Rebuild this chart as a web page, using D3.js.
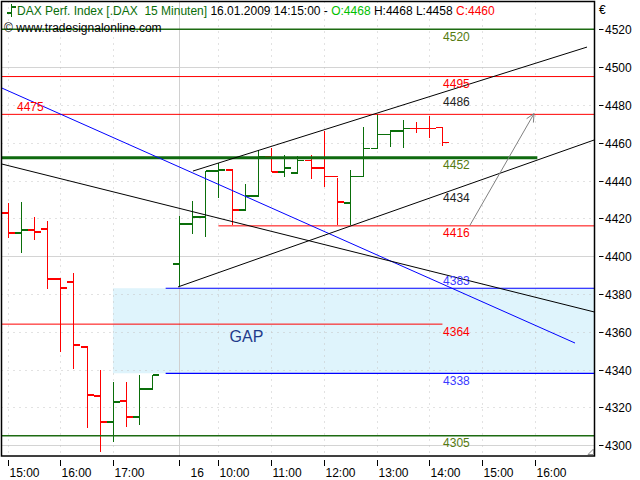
<!DOCTYPE html>
<html><head><meta charset="utf-8">
<script src="https://cdn.jsdelivr.net/npm/d3@7"></script>
<style>
body{margin:0;background:#fff}
svg{display:block;font-family:"Liberation Sans",Arial,sans-serif}
</style>
</head><body><svg id="c" width="640" height="480"></svg>
<script>
// ---------- DATA ----------
const barIdx = [0,1,2,3,4,5,6,7,8,9,10,11, 13,14,15,16,17,18,19,20,21,22,23,24,25,26,27,28,29,30,31,32,33];
const opens  = [4422.8,4412.2,4413.8,4414.3,4387.9,4386.3,4351.9,4326.0,4312.2,4323.3,4314.9,4329.7,
                4395.8,4417.0,4420.7,4445.0,4445.5,4424.4,4431.8,4452.6,4444.5,4444.1,4450.5,4446.6,4442.0,4428.1,4442.1,4457.0,4464.4,4466.2,4467.6,4467.6,4468];
const highs  = [4428.1,4428.6,4420.7,4418.6,4387.9,4391.1,4351.9,4339.7,4333.4,4333.4,4337.1,4337.1,
                4421.2,4429.1,4445.0,4449.3,4445.5,4438.1,4456.1,4457.2,4453.5,4453.0,4453.5,4466.3,4441.3,4445.5,4468.3,4475.2,4466.7,4472.0,4471.0,4474.3,4468];
const lows   = [4409.6,4401.6,4408.5,4382.6,4349.3,4340.3,4309.0,4296.3,4301.6,4309.6,4310.6,4329.7,
                4384.2,4411.7,4410.1,4430.7,4416.5,4424.4,4431.8,4444.5,4441.9,4443.4,4440.8,4436.6,4416.5,4416.5,4442.4,4457.2,4457.7,4457.2,4465.1,4462.6,4458];
const closes = [4412.2,4413.8,4412.7,4387.9,4383.1,4353.0,4326.5,4312.2,4322.8,4314.9,4329.7,4337.1,
                4417.0,4420.7,4445.0,4445.5,4424.4,4431.8,4452.6,4444.5,4446.6,4450.5,4446.6,4442.0,4428.6,4442.1,4457.0,4464.4,4466.2,4467.6,4467.4,4467.4,4460];

const xTickIdx    = [0,4,8,13,16,20,24,28,32,36,40];
const xTickLabels = ["15:00","16:00","17:00","16","10:00","11:00","12:00","13:00","14:00","15:00","16:00"];
const xGridHourIdx = [0,4,8,16,20,24,28,32,36,40];
const xDaySepIdx   = [13];
const yTicks = d3.range(4300, 4521, 20);
const ySolidGrid = [4300,4400,4500];

// horizontal levels: value, start index (null = plot edge), end index, colour, width, label, label colour
const levelValues = [4520, 4495, 4475, 4452, 4416, 4383, 4364, 4338, 4305];
const levelFrom   = [null, null, null, null, 16,   12,   null, 12,   null];
const levelTo     = [null, null, null, 40.2, null, null, 33,   null, null];
const levelColors = ["#1d6b12","#ff0000","#ff0000","#0f6a0f","#ff0000","#0000ff","#ff0000","#0000ff","#1d6b12"];
const levelWidths = [1.5,1,1,3,1,1.2,1,1.2,1.5];
const levelLabelColors = ["#557a10","#ff0000","#ff0000","#557a10","#ff0000","#3a3aff","#ff0000","#3a3aff","#557a10"];
const levelLabelAbove  = [false,false,true,false,false,true,false,false,false];
const levelLabelAtLeft = [false,false,true,false,false,false,false,false,false];

// extra value labels (channel readings)
const noteValues = [4486, 4434];

// trend lines as [index, value] pairs
const blueLine  = [[-0.42,4488.9],[43.06,4354.0]];
const blackDown = [[-0.42,4448.7],[44.54,4370.4]];
const chanUpper = [[14.07,4445.0],[43.97,4510.6]];
const chanLower = [[12.94,4383.7],[44.50,4461.4]];
const arrowLine = [[35.06,4416.0],[39.95,4475.4]];

// gap zone
const gapFromIdx = 8.0, gapTop = 4383, gapBottom = 4338;

// ---------- SCALES ----------
const W = 640, H = 480;
const plot = {l:1.5, t:1.5, r:594.5, b:456};
const x = d3.scaleLinear().domain([0,40]).range([7.5,534.7]);
const y = d3.scaleLinear().domain([4300,4520]).range([445.1,29.3]);
const xL = x.invert(plot.l), xR = x.invert(plot.r);

const svg = d3.select("#c");
svg.append("rect").attr("width",W).attr("height",H).attr("fill","#fff");
svg.append("defs").append("clipPath").attr("id","pc")
  .append("rect").attr("x",plot.l).attr("y",plot.t).attr("width",plot.r-plot.l).attr("height",plot.b-plot.t);
const g = svg.append("g").attr("clip-path","url(#pc)");

// gap zone
g.append("rect")
  .attr("x", x(gapFromIdx)).attr("y", y(gapTop))
  .attr("width", x(xR)-x(gapFromIdx)).attr("height", y(gapBottom)-y(gapTop))
  .attr("fill","#dff4fc");

// grid
g.selectAll(".hg").data(yTicks.filter(v=>!ySolidGrid.includes(v))).join("line")
  .attr("x1",plot.l).attr("x2",plot.r).attr("y1",d=>Math.round(y(d))+0.5).attr("y2",d=>Math.round(y(d))+0.5)
  .attr("stroke","#c4c4c4").attr("stroke-dasharray","1,5");
g.selectAll(".hs").data(ySolidGrid).join("line")
  .attr("x1",plot.l).attr("x2",plot.r).attr("y1",d=>Math.round(y(d))+0.5).attr("y2",d=>Math.round(y(d))+0.5)
  .attr("stroke","#d4d4d4");
g.selectAll(".vg").data(xGridHourIdx).join("line")
  .attr("y1",plot.t).attr("y2",plot.b).attr("x1",d=>Math.round(x(d))+0.5).attr("x2",d=>Math.round(x(d))+0.5)
  .attr("stroke","#c4c4c4").attr("stroke-dasharray","1,5");
g.selectAll(".vs").data(xDaySepIdx).join("line")
  .attr("y1",plot.t).attr("y2",plot.b).attr("x1",d=>Math.round(x(d))+0.5).attr("x2",d=>Math.round(x(d))+0.5)
  .attr("stroke","#d0d0d0");

// bars (OHLC)
const bars = barIdx.map((i,k)=>({i, o:opens[k], h:highs[k], l:lows[k], c:closes[k]}));
const bg = g.append("g").attr("shape-rendering","crispEdges");
bars.forEach(d=>{
  const col = d.c >= d.o ? "#0a6e0a" : "#ff0000";
  const cx = Math.round(x(d.i))+0.5;
  bg.append("line").attr("x1",cx).attr("x2",cx).attr("y1",y(d.h)).attr("y2",y(d.l)).attr("stroke",col).attr("stroke-width",1.5);
  bg.append("line").attr("x1",cx-6.5).attr("x2",cx).attr("y1",y(d.o)).attr("y2",y(d.o)).attr("stroke",col).attr("stroke-width",1.5);
  bg.append("line").attr("x1",cx).attr("x2",cx+6.5).attr("y1",y(d.c)).attr("y2",y(d.c)).attr("stroke",col).attr("stroke-width",1.5);
});

// levels
levelValues.forEach((v,k)=>{
  const a = levelFrom[k]==null ? xL : levelFrom[k];
  const b = levelTo[k]==null ? xR : levelTo[k];
  g.append("line").attr("x1",x(a)).attr("x2",x(b)).attr("y1",y(v)).attr("y2",y(v))
    .attr("stroke",levelColors[k]).attr("stroke-width",levelWidths[k]);
});

// trend lines
const line = d3.line().x(d=>x(d[0])).y(d=>y(d[1]));
g.append("path").attr("d",line(blueLine)).attr("stroke","#0000ff").attr("fill","none").attr("stroke-width",1);
g.append("path").attr("d",line(blackDown)).attr("stroke","#000").attr("fill","none").attr("stroke-width",1);
g.append("path").attr("d",line(chanUpper)).attr("stroke","#000").attr("fill","none").attr("stroke-width",1);
g.append("path").attr("d",line(chanLower)).attr("stroke","#000").attr("fill","none").attr("stroke-width",1);
g.append("path").attr("d",line(arrowLine)).attr("stroke","#808080").attr("fill","none").attr("stroke-width",1);
// arrow head
{
  const p0 = [x(arrowLine[0][0]), y(arrowLine[0][1])], p1 = [x(arrowLine[1][0]), y(arrowLine[1][1])];
  const ang = Math.atan2(p1[1]-p0[1], p1[0]-p0[0]);
  const L = 9, sp = 0.45;
  const a1 = [p1[0]-L*Math.cos(ang-sp), p1[1]-L*Math.sin(ang-sp)];
  const a2 = [p1[0]-L*Math.cos(ang+sp), p1[1]-L*Math.sin(ang+sp)];
  g.append("path").attr("d",`M${a1}L${p1}L${a2}`).attr("stroke","#808080").attr("fill","none").attr("stroke-width",1);
}

// level labels
const labelX = x(33.05);
levelValues.forEach((v,k)=>{
  const lx = levelLabelAtLeft[k] ? 17 : labelX;
  const ly = levelLabelAbove[k] ? y(v)-3.5 : y(v)+11.5;
  g.append("text").attr("x",lx).attr("y",ly).attr("font-size",12).attr("fill",levelLabelColors[k]).text(v);
});
// channel value notes
noteValues.forEach(v=>{
  const isUp = v===4486;
  g.append("text").attr("x",labelX).attr("y",y(v)+(isUp?12:10.5)).attr("font-size",12).attr("fill","#222").text(v);
});
// GAP label
g.append("text").attr("x",x(16.85)).attr("y",y(4354.3)).attr("font-size",16).attr("fill","#1e3a8a").text("GAP");

// header
const h1 = svg.append("text").attr("x",17).attr("y",15).attr("font-size",12);
h1.append("tspan").attr("fill","#0a6e0a").text("DAX Perf. Index [.DAX\u00a0\u00a015 Minuten]");
h1.append("tspan").attr("fill","#000").text(" 16.01.2009 14:15:00 - ");
h1.append("tspan").attr("fill","#00c000").text("O:4468");
h1.append("tspan").attr("fill","#000").text(" H:4468 L:4458 ");
h1.append("tspan").attr("fill","#ff0000").text("C:4460");
svg.append("text").attr("x",4).attr("y",32).attr("font-size",12).attr("fill","#000").text("\u00a9 www.tradesignalonline.com");
// legend glyph
svg.append("path").attr("d","M11.5,4V17M7,13H11.5M11.5,7H16").attr("stroke","#0a6e0a").attr("stroke-width",1.3).attr("fill","none").attr("shape-rendering","crispEdges");

// frame
svg.append("rect").attr("x",plot.l).attr("y",plot.t).attr("width",plot.r-plot.l).attr("height",plot.b-plot.t)
  .attr("fill","none").attr("stroke","#000").attr("stroke-width",1.5);
// resize glyph
svg.append("path").attr("d","M588,454.5H593.5V449Z").attr("fill","none").attr("stroke","#888").attr("stroke-width",1);

// right axis
const ya = svg.append("g");
yTicks.forEach(v=>{
  const yy = Math.round(y(v))+0.5;
  ya.append("line").attr("x1",599).attr("x2",603.5).attr("y1",yy).attr("y2",yy).attr("stroke","#000");
  ya.append("text").attr("x",605).attr("y",yy+4.5).attr("font-size",12).attr("fill","#000").text(v);
});
svg.append("text").attr("x",599).attr("y",14).attr("font-size",12).text("\u20ac");

// bottom axis
xTickIdx.forEach((i,k)=>{
  const xx = Math.round(x(i))+0.5;
  svg.append("line").attr("x1",xx).attr("x2",xx).attr("y1",460).attr("y2",466).attr("stroke","#000");
  svg.append("text").attr("x",xx + (xTickLabels[k]==="16" ? 11 : 1)).attr("y",476.5).attr("font-size",12).attr("fill","#000").text(xTickLabels[k]);
});
</script></body></html>
